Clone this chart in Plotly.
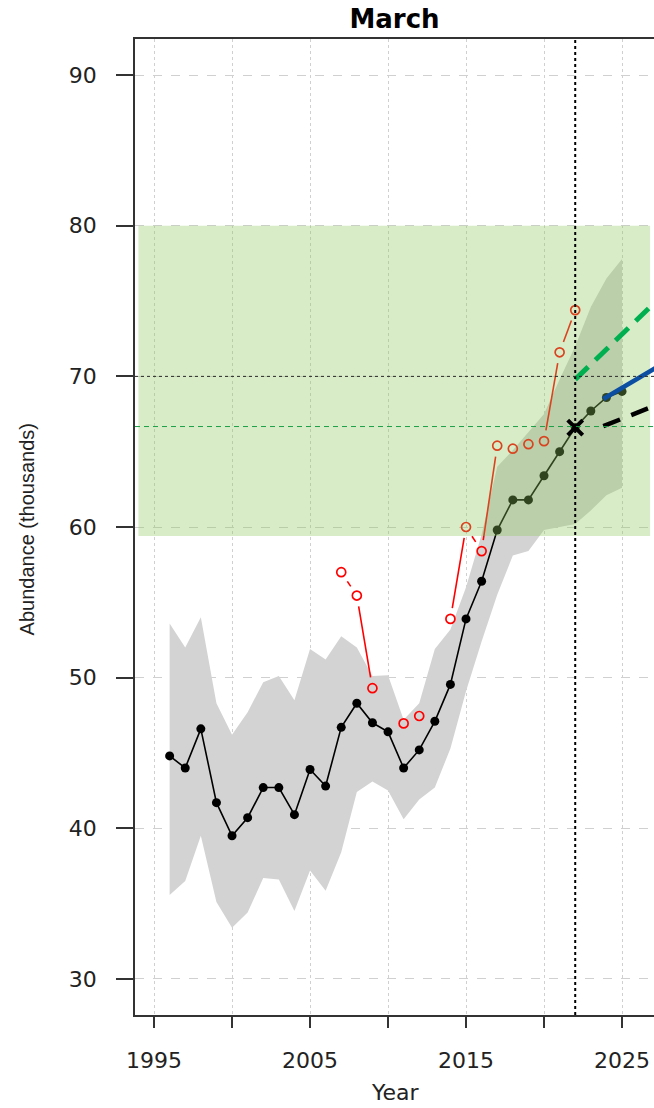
import math
import plotly.graph_objects as go

# ---------------- data ----------------
years = list(range(1996, 2026))
abundance = [44.8, 44.0, 46.6, 41.7, 39.5, 40.7, 42.7, 42.7, 40.9, 43.9,
             42.8, 46.7, 48.3, 47.0, 46.4, 44.0, 45.2, 47.1, 49.55, 53.9,
             56.4, 59.8, 61.8, 61.8, 63.4, 65.0, 66.6, 67.7, 68.6, 69.0]
upper = [53.6, 52.0, 54.0, 48.3, 46.2, 47.7, 49.7, 50.1, 48.5, 51.9,
         51.2, 52.75, 52.0, 50.1, 50.15, 47.2, 48.3, 51.9, 53.2, 56.0,
         59.5, 64.0, 65.1, 66.3, 67.5, 69.8, 72.0, 74.6, 76.5, 77.8]
lower = [35.56, 36.5, 39.5, 35.1, 33.4, 34.4, 36.7, 36.6, 34.5, 37.2,
         35.85, 38.4, 42.4, 43.1, 42.5, 40.6, 41.9, 42.7, 45.3, 49.1,
         52.4, 55.5, 58.1, 58.4, 59.8, 60.0, 60.2, 61.1, 62.1, 62.6]

red_years = [2007, 2008, 2009, 2010, 2011, 2012, 2013, 2014,
             2015, 2016, 2017, 2018, 2019, 2020, 2021, 2022]
red_vals = [57.0, 55.45, 49.3, None, 46.96, 47.45, None, 53.9,
            60.0, 58.4, 65.4, 65.2, 65.5, 65.7, 71.6, 74.4]

target_years = [1994.0, 2026.8]
target_range = [59.4, 80.0]

current_year = 2022
current_value = 66.6
ref_upper = 70.0
ref_mean = 66.67

proj_green_x = [2022, 2030]
proj_green_y = [69.8, 77.8]
proj_blue_x = [2023.8, 2030]
proj_blue_y = [68.5, 72.3]
proj_black_x = [2023.8, 2030]
proj_black_y = [66.7, 69.24]

x_ticks = [1995, 2000, 2005, 2010, 2015, 2020, 2025]
x_ticklabels = ["1995", "", "2005", "", "2015", "", "2025"]
y_ticks = [30, 40, 50, 60, 70, 80, 90]
y_ticklabels = ["30", "40", "50", "60", "70", "80", "90"]

# ---------------- layout geometry ----------------
W, H = 654, 1108
ML, MR, MT, MB = 135, 0, 39, 93
x_range = [1993.78, 2027.05]
y_range = [27.6, 92.4]
plot_w = W - ML - MR
plot_h = H - MT - MB
px_x = plot_w / (x_range[1] - x_range[0])
px_y = plot_h / (y_range[1] - y_range[0])

# R type="b" style: segments with gaps around points
gap = 11.0
seg_x, seg_y = [], []
for i in range(len(red_years) - 1):
    y1, y2 = red_vals[i], red_vals[i + 1]
    if y1 is None or y2 is None:
        continue
    x1, x2 = red_years[i], red_years[i + 1]
    dxp = (x2 - x1) * px_x
    dyp = (y2 - y1) * px_y
    L = math.hypot(dxp, dyp)
    if L <= 2 * gap:
        continue
    t = gap / L
    seg_x += [x1 + t * (x2 - x1), x2 - t * (x2 - x1), None]
    seg_y += [y1 + t * (y2 - y1), y2 - t * (y2 - y1), None]

fig = go.Figure()

# uncertainty band
fig.add_trace(go.Scatter(
    x=years + years[::-1], y=upper + lower[::-1],
    fill="toself", fillcolor="#d3d3d3", mode="lines",
    line=dict(width=0), hoverinfo="skip", showlegend=False))

# model estimates
fig.add_trace(go.Scatter(
    x=years, y=abundance, mode="lines+markers",
    line=dict(color="black", width=1.6),
    marker=dict(color="black", size=9, symbol="circle"),
    showlegend=False))

# red observations (type="b")
fig.add_trace(go.Scatter(
    x=seg_x, y=seg_y, mode="lines",
    line=dict(color="red", width=1.6), showlegend=False))
fig.add_trace(go.Scatter(
    x=red_years, y=red_vals, mode="markers",
    marker=dict(symbol="circle-open", color="red", size=9,
                line=dict(width=1.7, color="red")),
    showlegend=False))

# target range (semi-transparent green)
fig.add_trace(go.Scatter(
    x=[target_years[0], target_years[1], target_years[1], target_years[0], target_years[0]],
    y=[target_range[0], target_range[0], target_range[1], target_range[1], target_range[0]],
    fill="toself", fillcolor="rgba(143,199,93,0.34)", mode="lines",
    line=dict(width=0), hoverinfo="skip", showlegend=False))

# projections
fig.add_trace(go.Scatter(
    x=proj_green_x, y=proj_green_y, mode="lines",
    line=dict(color="#00b050", width=5, dash="18px,10px"), showlegend=False))
fig.add_trace(go.Scatter(
    x=proj_blue_x, y=proj_blue_y, mode="lines",
    line=dict(color="#0b4ea2", width=4.5), showlegend=False))
fig.add_trace(go.Scatter(
    x=proj_black_x, y=proj_black_y, mode="lines",
    line=dict(color="black", width=4.5, dash="18px,12px"), showlegend=False))

# reference lines
fig.add_shape(type="line", xref="x", yref="paper", x0=current_year, x1=current_year,
              y0=0, y1=1, line=dict(color="black", width=2, dash="dot"), layer="above")
fig.add_shape(type="line", xref="paper", yref="y", x0=0, x1=1, y0=ref_upper, y1=ref_upper,
              line=dict(color="#2a2a2a", width=1, dash="3px,3px"), layer="above")
fig.add_shape(type="line", xref="paper", yref="y", x0=0, x1=1, y0=ref_mean, y1=ref_mean,
              line=dict(color="#1a9e46", width=1, dash="5px,4px"), layer="above")

# current estimate
fig.add_trace(go.Scatter(
    x=[current_year], y=[current_value], mode="markers",
    marker=dict(symbol="x-thin", size=15, line=dict(width=4, color="black")),
    showlegend=False))

tickfont = dict(family="DejaVu Sans", size=22, color="#222222")

fig.update_layout(
    width=W, height=H,
    margin=dict(l=ML, r=MR, t=MT, b=MB, pad=0),
    paper_bgcolor="white", plot_bgcolor="white",
    title=dict(text="<b>March</b>", x=0.5, xref="paper", xanchor="center",
               y=1 - 19 / H, yref="container", yanchor="middle",
               font=dict(family="DejaVu Sans", size=26, color="black")),
    xaxis=dict(range=x_range, tickvals=x_ticks, ticktext=x_ticklabels,
               showgrid=True, gridcolor="#d0d0d0", griddash="dot", gridwidth=1,
               zeroline=False, showline=True, linecolor="#333333", linewidth=1.5,
               mirror=True, ticks="outside", ticklen=11, tickwidth=1.5,
               tickcolor="#333333", tickfont=tickfont, ticklabelstandoff=14),
    yaxis=dict(range=y_range, tickvals=y_ticks, ticktext=y_ticklabels,
               showgrid=True, gridcolor="#d0d0d0", griddash="dash", gridwidth=1,
               zeroline=False, showline=True, linecolor="#333333", linewidth=1.5,
               mirror=False, ticks="outside", ticklen=17, tickwidth=1.5,
               tickcolor="#333333", tickfont=tickfont, ticklabelstandoff=15),
    annotations=[
        dict(text="Abundance (thousands)", xref="paper", yref="paper",
             x=(26.5 - ML) / plot_w, y=0.497, xanchor="center", yanchor="middle",
             textangle=-90, showarrow=False,
             font=dict(family="Liberation Sans", size=20, color="#222222")),
        dict(text="Year", xref="paper", yref="paper",
             x=(395 - ML) / plot_w, y=-(H - 1 - (H - MB)) / plot_h,
             xanchor="center", yanchor="bottom", showarrow=False,
             font=dict(family="DejaVu Sans", size=22, color="#222222")),
    ],
)

fig.write_html(
    "out.html",
    config={"displayModeBar": False},
    post_script="document.body.style.margin='0';document.body.style.overflow='hidden';",
)
